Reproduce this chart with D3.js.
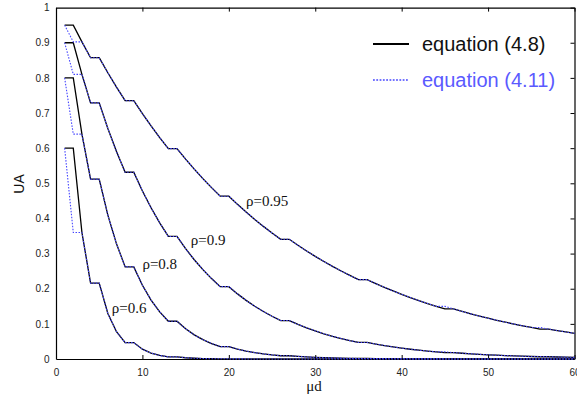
<!DOCTYPE html>
<html>
<head>
<meta charset="utf-8">
<script src="https://cdn.jsdelivr.net/npm/d3@7"></script>
<style>
  html, body { margin: 0; padding: 0; background: #fff; }
  svg { display: block; }
</style>
</head>
<body>
<svg id="chart" width="577" height="396"></svg>
<script>
// ---------------- data ----------------
const muD = [1,2,3,4,5,6,7,8,9,10,11,12,13,14,15,16,17,18,19,20,
             21,22,23,24,25,26,27,28,29,30,31,32,33,34,35,36,37,38,39,40,
             41,42,43,44,45,46,47,48,49,50,51,52,53,54,55,56,57,58,59,60];

// equation (4.8)  (solid black)
const eq48_rho095 = [0.9500,0.9500,0.9025,0.8574,0.8574,0.8145,0.7738,0.7351,0.7351,0.6983,
                     0.6634,0.6302,0.5987,0.5987,0.5688,0.5404,0.5133,0.4877,0.4633,0.4633,
                     0.4401,0.4181,0.3972,0.3774,0.3585,0.3406,0.3406,0.3235,0.3074,0.2920,
                     0.2774,0.2635,0.2503,0.2378,0.2259,0.2259,0.2146,0.2039,0.1937,0.1840,
                     0.1748,0.1661,0.1578,0.1499,0.1424,0.1424,0.1353,0.1285,0.1221,0.1160,
                     0.1102,0.1047,0.0994,0.0945,0.0897,0.0853,0.0853,0.0810,0.0769,0.0731];
const eq48_rho090 = [0.9000,0.9000,0.8100,0.7290,0.7290,0.6561,0.5905,0.5314,0.5314,0.4783,
                     0.4305,0.3874,0.3487,0.3487,0.3138,0.2824,0.2542,0.2288,0.2059,0.2059,
                     0.1853,0.1668,0.1501,0.1351,0.1216,0.1094,0.1094,0.0985,0.0886,0.0798,
                     0.0718,0.0646,0.0582,0.0523,0.0471,0.0471,0.0424,0.0382,0.0343,0.0309,
                     0.0278,0.0250,0.0225,0.0203,0.0182,0.0182,0.0164,0.0148,0.0133,0.0120,
                     0.0108,0.0097,0.0087,0.0079,0.0071,0.0064,0.0064,0.0057,0.0052,0.0046];
const eq48_rho080 = [0.8000,0.8000,0.6400,0.5120,0.5120,0.4096,0.3277,0.2621,0.2621,0.2097,
                     0.1678,0.1342,0.1074,0.1074,0.0859,0.0687,0.0550,0.0440,0.0352,0.0352,
                     0.0281,0.0225,0.0180,0.0144,0.0115,0.0092,0.0092,0.0074,0.0059,0.0047,
                     0.0038,0.0030,0.0024,0.0019,0.0015,0.0015,0.0012,0.0010,0.0008,0.0006,
                     0.0005,0.0004,0.0003,0.0003,0.0002,0.0002,0.0002,0.0001,0.0001,0.0001,
                     0.0001,0.0001,0.0000,0.0000,0.0000,0.0000,0.0000,0.0000,0.0000,0.0000];
const eq48_rho060 = [0.6000,0.6000,0.3600,0.2160,0.2160,0.1296,0.0778,0.0467,0.0467,0.0280,
                     0.0168,0.0101,0.0060,0.0060,0.0036,0.0022,0.0013,0.0008,0.0005,0.0005,
                     0.0003,0.0002,0.0001,0.0001,0.0000,0.0000,0.0000,0.0000,0.0000,0.0000,
                     0.0000,0.0000,0.0000,0.0000,0.0000,0.0000,0.0000,0.0000,0.0000,0.0000,
                     0.0000,0.0000,0.0000,0.0000,0.0000,0.0000,0.0000,0.0000,0.0000,0.0000,
                     0.0000,0.0000,0.0000,0.0000,0.0000,0.0000,0.0000,0.0000,0.0000,0.0000];

// equation (4.11)  (dotted blue)
const eq411_rho095 = [0.9500,0.9025,0.9025,0.8574,0.8574,0.8145,0.7738,0.7351,0.7351,0.6983,
                      0.6634,0.6302,0.5987,0.5987,0.5688,0.5404,0.5133,0.4877,0.4633,0.4633,
                      0.4401,0.4181,0.3972,0.3774,0.3585,0.3406,0.3406,0.3235,0.3074,0.2920,
                      0.2774,0.2635,0.2503,0.2378,0.2259,0.2259,0.2146,0.2039,0.1937,0.1840,
                      0.1748,0.1661,0.1578,0.1499,0.1499,0.1424,0.1353,0.1285,0.1221,0.1160,
                      0.1102,0.1047,0.0994,0.0945,0.0897,0.0897,0.0853,0.0810,0.0769,0.0731];
const eq411_rho090 = [0.9000,0.8100,0.8100,0.7290,0.7290,0.6561,0.5905,0.5314,0.5314,0.4783,
                      0.4305,0.3874,0.3487,0.3487,0.3138,0.2824,0.2542,0.2288,0.2059,0.2059,
                      0.1853,0.1668,0.1501,0.1351,0.1216,0.1094,0.1094,0.0985,0.0886,0.0798,
                      0.0718,0.0646,0.0582,0.0523,0.0471,0.0471,0.0424,0.0382,0.0343,0.0309,
                      0.0278,0.0250,0.0225,0.0203,0.0203,0.0182,0.0164,0.0148,0.0133,0.0120,
                      0.0108,0.0097,0.0087,0.0079,0.0071,0.0071,0.0064,0.0057,0.0052,0.0046];
const eq411_rho080 = [0.8000,0.6400,0.6400,0.5120,0.5120,0.4096,0.3277,0.2621,0.2621,0.2097,
                      0.1678,0.1342,0.1074,0.1074,0.0859,0.0687,0.0550,0.0440,0.0352,0.0352,
                      0.0281,0.0225,0.0180,0.0144,0.0115,0.0092,0.0092,0.0074,0.0059,0.0047,
                      0.0038,0.0030,0.0024,0.0019,0.0015,0.0015,0.0012,0.0010,0.0008,0.0006,
                      0.0005,0.0004,0.0003,0.0003,0.0002,0.0002,0.0002,0.0001,0.0001,0.0001,
                      0.0001,0.0001,0.0000,0.0000,0.0000,0.0000,0.0000,0.0000,0.0000,0.0000];
const eq411_rho060 = [0.6000,0.3600,0.3600,0.2160,0.2160,0.1296,0.0778,0.0467,0.0467,0.0280,
                      0.0168,0.0101,0.0060,0.0060,0.0036,0.0022,0.0013,0.0008,0.0005,0.0005,
                      0.0003,0.0002,0.0001,0.0001,0.0000,0.0000,0.0000,0.0000,0.0000,0.0000,
                      0.0000,0.0000,0.0000,0.0000,0.0000,0.0000,0.0000,0.0000,0.0000,0.0000,
                      0.0000,0.0000,0.0000,0.0000,0.0000,0.0000,0.0000,0.0000,0.0000,0.0000,
                      0.0000,0.0000,0.0000,0.0000,0.0000,0.0000,0.0000,0.0000,0.0000,0.0000];

const curveLabels = ["ρ=0.95", "ρ=0.9", "ρ=0.8", "ρ=0.6"];
const curveLabelAnchor = [[22.0, 0.435], [15.6, 0.323], [10.0, 0.256], [6.45, 0.13]]; // data coords of label start
const xTicks = [0, 10, 20, 30, 40, 50, 60];
const xTickLabels = ["0", "10", "20", "30", "40", "50", "60"];
const yTicks = [0, 0.1, 0.2, 0.3, 0.4, 0.5, 0.6, 0.7, 0.8, 0.9, 1];
const yTickLabels = ["0", "0.1", "0.2", "0.3", "0.4", "0.5", "0.6", "0.7", "0.8", "0.9", "1"];
const legendLabels = ["equation (4.8)", "equation (4.11)"];
const xTitle = "μd";
const yTitle = "UA";

// ---------------- chart ----------------
const svg = d3.select("#chart");
const x = d3.scaleLinear().domain([0, 60]).range([56, 574.5]);
const y = d3.scaleLinear().domain([0, 1]).range([359, 7.6]);
const BLUE = "#4545ff";

const solidSeries = [eq48_rho095, eq48_rho090, eq48_rho080, eq48_rho060];
const dottedSeries = [eq411_rho095, eq411_rho090, eq411_rho080, eq411_rho060];

const line = d3.line().x((d, i) => x(muD[i])).y(d => y(d));

// axes
const gB = svg.append("g").attr("transform", `translate(0,${y(0)})`)
  .call(d3.axisBottom(x).tickValues(xTicks).tickFormat((d, i) => xTickLabels[i])
        .tickSizeInner(-4).tickSizeOuter(0).tickPadding(10));
const gT = svg.append("g").attr("transform", `translate(0,${y(1)})`)
  .call(d3.axisTop(x).tickValues(xTicks).tickFormat("").tickSizeInner(-4).tickSizeOuter(0));
const gL = svg.append("g").attr("transform", `translate(${x(0)},0)`)
  .call(d3.axisLeft(y).tickValues(yTicks).tickFormat((d, i) => yTickLabels[i])
        .tickSizeInner(0).tickSizeOuter(0).tickPadding(6.5));
const gR = svg.append("g").attr("transform", `translate(${x(60)},0)`)
  .call(d3.axisRight(y).tickValues(yTicks).tickFormat("").tickSizeInner(-4).tickSizeOuter(0));

[gB, gT, gL, gR].forEach(g => {
  g.select(".domain").attr("stroke", "#000").attr("stroke-width", 1.2);
  g.selectAll(".tick line").attr("stroke", "#000").attr("stroke-width", 1);
  g.selectAll("text").attr("font-family", "'Liberation Sans', Arial, sans-serif")
    .attr("font-size", 10).attr("fill", "#222");
});

// curves
svg.append("g").selectAll("path.solid").data(solidSeries).join("path")
  .attr("class", "solid")
  .attr("d", line).attr("fill", "none").attr("stroke", "#000").attr("stroke-width", 1.3);
svg.append("g").selectAll("path.dotted").data(dottedSeries).join("path")
  .attr("class", "dotted")
  .attr("d", line).attr("fill", "none").attr("stroke", BLUE).attr("stroke-width", 1.1)
  .attr("stroke-dasharray", "1.5,1.5");

// curve labels
svg.append("g").selectAll("text").data(curveLabels).join("text")
  .attr("x", (d, i) => x(curveLabelAnchor[i][0]))
  .attr("y", (d, i) => y(curveLabelAnchor[i][1]))
  .attr("font-family", "'Liberation Serif', 'Times New Roman', serif")
  .attr("font-size", 15).attr("fill", "#111")
  .text(d => d);

// axis titles
svg.append("text").attr("x", 314).attr("y", 391).attr("text-anchor", "middle")
  .attr("font-family", "'Liberation Serif', 'Times New Roman', serif").attr("font-size", 15)
  .attr("fill", "#111").text(xTitle);
svg.append("text").attr("transform", "translate(24,184) rotate(-90)").attr("text-anchor", "middle")
  .attr("font-family", "'Liberation Sans', Arial, sans-serif").attr("font-size", 14)
  .attr("fill", "#111").text(yTitle);

// legend
const leg = svg.append("g");
leg.append("line").attr("x1", 373).attr("x2", 409).attr("y1", 44).attr("y2", 44)
  .attr("stroke", "#000").attr("stroke-width", 2);
leg.append("line").attr("x1", 373).attr("x2", 409).attr("y1", 80).attr("y2", 80)
  .attr("stroke", BLUE).attr("stroke-width", 1.6).attr("stroke-dasharray", "1.8,1.5");
leg.selectAll("text").data(legendLabels).join("text")
  .attr("x", 422).attr("y", (d, i) => i === 0 ? 50.5 : 86.5)
  .attr("font-family", "'Liberation Sans', Arial, sans-serif").attr("font-size", 20)
  .attr("fill", (d, i) => i === 0 ? "#111" : "#5a5aff")
  .text(d => d);
</script>
</body>
</html>
